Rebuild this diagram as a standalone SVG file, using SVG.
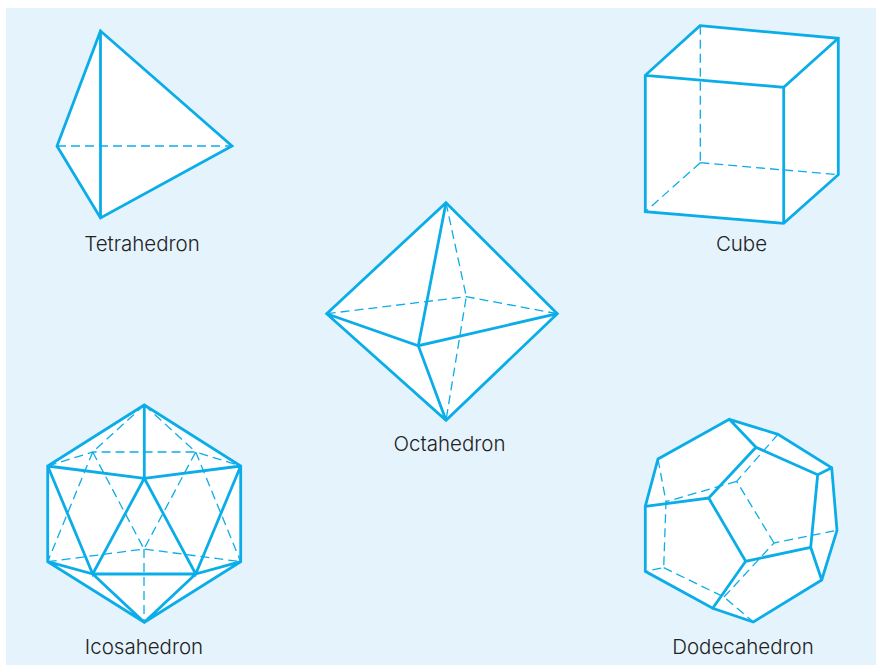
<svg xmlns="http://www.w3.org/2000/svg" width="876" height="665" viewBox="0 0 876 665">
<style>
.f{fill:#fff;stroke:none}
.s{fill:none;stroke:#0bade8;stroke-width:2.8;stroke-linejoin:miter;stroke-linecap:round}
.d{fill:none;stroke:#0bade8;stroke-width:1.3;stroke-dasharray:9 5}
text{font-family:"Inter","Liberation Sans",sans-serif;font-weight:300;font-size:20.5px;fill:#222;text-anchor:middle}
</style>
<rect width="876" height="665" fill="#fff"/>
<rect x="6" y="8" width="870" height="657" fill="#e5f3fd"/>
<g id="tetrahedron">
<polygon class="f" points="100.500,31 232,146 100.500,218 57,146"/>
<path class="d" d="M57 146H232"/>
<path class="s" d="M100.500 31L232 146L100.500 218L57 146ZM100.500 31V218"/>
<text x="142" y="251">Tetrahedron</text>
</g>
<g id="cube">
<polygon class="f" points="700,25.700 838.300,38.300 838.300,174.700 783.700,223.300 645.300,211.700 645.300,75.300"/>
<path class="d" d="M700.300 25.700V162.700M700.300 162.700L645.300 211.700M700.300 162.700L838.300 174.700"/>
<path class="s" d="M700 25.700L838.300 38.300V174.700L783.700 223.300L645.300 211.700V75.300ZM645.300 75.300L783.700 87.300V223.300M783.700 87.300L838.300 38.300"/>
<text x="741.500" y="251">Cube</text>
</g>
<g id="octahedron">
<polygon class="f" points="446,202.700 557.300,313.700 446,420.300 326.700,313.700"/>
<path class="d" d="M446 202.700L466.300 296.700L446 420.300M326.700 313.700L466.300 296.700L557.300 313.700"/>
<path class="s" d="M446 202.700L557.300 313.700L446 420.300L326.700 313.700ZM446 202.700L418.300 345.700L446 420.300M326.700 313.700L418.300 345.700L557.300 313.700"/>
<text x="449.500" y="451">Octahedron</text>
</g>
<g id="icosahedron">
<polygon class="f" points="144.300,405 240.700,466 240.700,561.700 144.300,622.300 47.700,561.700 47.700,466"/>
<path class="d" d="M144.300 405L92.700 452M144.300 405L195.700 452M47.700 466L92.700 452H195.700L240.700 466M92.700 452L47.700 561.700M195.700 452L240.700 561.700M92.700 452L144 549L195.700 452M47.700 561.700L144 549L240.700 561.700M144 549V622.300"/>
<path class="s" d="M144.300 405L240.700 466V561.700L144.300 622.300L47.700 561.700V466ZM144.300 405V478.300M47.700 466L144.300 478.300L240.700 466M47.700 466L92.700 574L144.300 478.300L195.700 574L240.700 466M92.700 574H195.700M47.700 561.700L92.700 574L144.300 622.300L195.700 574L240.700 561.700"/>
<text x="144" y="654">Icosahedron</text>
</g>
<g id="dodecahedron">
<polygon class="f" points="729.300,419.300 778,434.300 831.700,467.700 837,530.300 821.700,580 753.300,622 712.700,608.300 645.300,571.300 645.300,506.300 658,459"/>
<path class="d" d="M658 459L666 501.700L663.700 567.700L645.300 571.300M663.700 567.700L724 597L753.300 622M724 597L774 543L837 530.300M774 543L736.700 481.300L778 434.300M736.700 481.300L666 501.700"/>
<path class="s" d="M729.300 419.300L778 434.300L831.700 467.700L837 530.300L821.700 580L753.300 622L712.700 608.300L645.300 571.300V506.300L658 459ZM729.300 419.300L756 447.300L817.700 474.700L831.700 467.700M817.700 474.700L810.700 547.300L821.700 580M810.700 547.300L745.700 561.300L712.700 608.300M745.700 561.300L708.700 498L645.300 506.300M708.700 498L756 447.300"/>
<text x="743" y="654">Dodecahedron</text>
</g>
</svg>
